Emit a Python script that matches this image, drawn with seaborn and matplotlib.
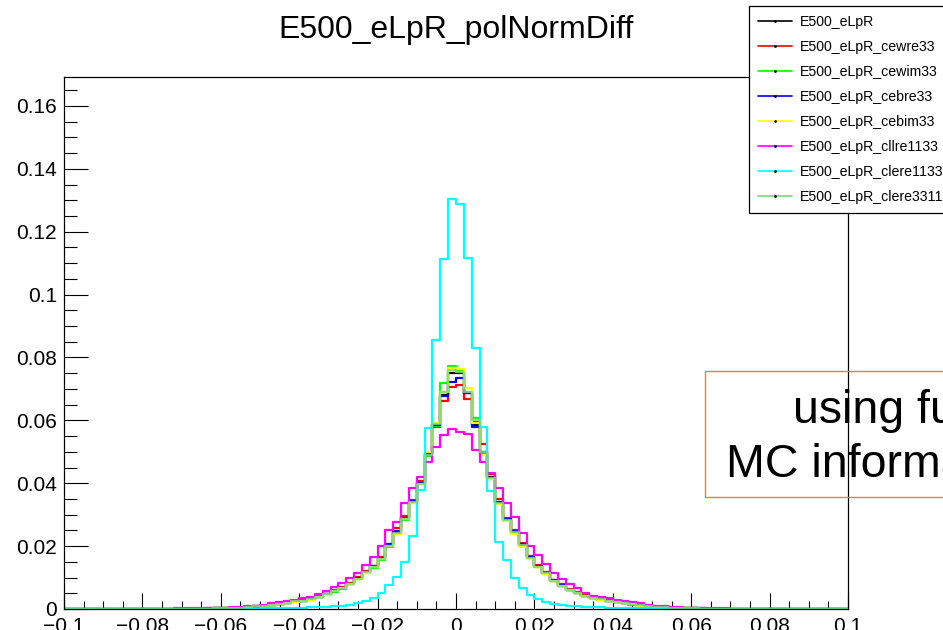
import numpy as np
import pandas as pd
import matplotlib
matplotlib.use("Agg")
import matplotlib.pyplot as plt
import matplotlib.patches as mpatches
from matplotlib.lines import Line2D
from matplotlib.ticker import MultipleLocator, FuncFormatter
import seaborn as sns

# ---------------- data (100 bins from -0.1 to 0.1, width 0.002) ----------------
bin_lo, bin_hi, n_bins = -0.1, 0.1, 100

eLpR = [
    0, 0, 0, 0, 0, 0, 0, 0, 0.00002, 0.00003,
    0.00003, 0.00004, 0.00005, 0.00006, 0.00008, 0.0001, 0.0001, 0.00012, 0.00015, 0.0002,
    0.00025, 0.0003, 0.0004, 0.0006, 0.0008, 0.0010, 0.0013, 0.0016, 0.0020, 0.0024,
    0.0027, 0.0031, 0.0039, 0.0048, 0.0057, 0.0068, 0.0082, 0.0098, 0.0119, 0.0135,
    0.0161, 0.0204, 0.0246, 0.0288, 0.0341, 0.0400, 0.0490, 0.0586, 0.0680, 0.0752,
    0.0750, 0.0688, 0.0585, 0.0497, 0.0420, 0.0340, 0.0283, 0.0246, 0.0204, 0.0165,
    0.0137, 0.0114, 0.0090, 0.0074, 0.0062, 0.0052, 0.0041, 0.0036, 0.0031, 0.0027,
    0.0023, 0.0019, 0.0015, 0.0012, 0.0009, 0.0007, 0.0005, 0.0004, 0.0003, 0.00025,
    0.0002, 0.00015, 0.00012, 0.0001, 0.0001, 0.00008, 0.00006, 0.00005, 0.00004, 0.00003,
    0.00003, 0.00002, 0, 0, 0, 0, 0, 0, 0, 0,
]
cewre33 = [
    0, 0, 0, 0, 0, 0, 0, 0.00002, 0.00002, 0.00003,
    0.00004, 0.00004, 0.00005, 0.00007, 0.00008, 0.0001, 0.00011, 0.00013, 0.00016, 0.0002,
    0.00026, 0.0003, 0.0004, 0.0006, 0.0008, 0.0011, 0.0013, 0.0017, 0.0021, 0.0025,
    0.0028, 0.0032, 0.0040, 0.0047, 0.0059, 0.0070, 0.0083, 0.0101, 0.0121, 0.0138,
    0.0165, 0.0207, 0.0259, 0.0295, 0.0348, 0.0408, 0.0495, 0.0580, 0.0660, 0.0707,
    0.0714, 0.0667, 0.0594, 0.0525, 0.0428, 0.0350, 0.0290, 0.0250, 0.0210, 0.0168,
    0.0140, 0.0118, 0.0093, 0.0078, 0.0064, 0.0053, 0.0043, 0.0037, 0.0032, 0.0028,
    0.0024, 0.0020, 0.0016, 0.0012, 0.0010, 0.0007, 0.0005, 0.0004, 0.0003, 0.00025,
    0.0002, 0.00016, 0.00012, 0.0001, 0.0001, 0.00008, 0.00006, 0.00005, 0.00004, 0.00003,
    0.00002, 0.00002, 0, 0, 0, 0, 0, 0, 0, 0,
]
cewim33 = [
    0, 0, 0, 0, 0, 0, 0, 0, 0.00002, 0.00003,
    0.00003, 0.00004, 0.00005, 0.00006, 0.00007, 0.00009, 0.0001, 0.00012, 0.00014, 0.00019,
    0.00024, 0.0003, 0.0004, 0.0005, 0.0007, 0.0010, 0.0012, 0.0015, 0.0019, 0.0023,
    0.0026, 0.0030, 0.0037, 0.0046, 0.0055, 0.0065, 0.0079, 0.0094, 0.0114, 0.0131,
    0.0156, 0.0196, 0.0240, 0.0283, 0.0337, 0.0398, 0.0488, 0.0583, 0.0718, 0.0773,
    0.0758, 0.0691, 0.0607, 0.0495, 0.0415, 0.0336, 0.0280, 0.0242, 0.0200, 0.0161,
    0.0133, 0.0111, 0.0088, 0.0072, 0.0060, 0.0050, 0.0040, 0.0035, 0.0030, 0.0026,
    0.0022, 0.0018, 0.0014, 0.0011, 0.0009, 0.0007, 0.0005, 0.0004, 0.0003, 0.00024,
    0.0002, 0.00015, 0.00011, 0.0001, 0.00009, 0.00007, 0.00006, 0.00005, 0.00004, 0.00003,
    0.00002, 0.00002, 0, 0, 0, 0, 0, 0, 0, 0,
]
cebre33 = [
    0, 0, 0, 0, 0, 0, 0, 0, 0.00002, 0.00003,
    0.00003, 0.00004, 0.00005, 0.00006, 0.00008, 0.0001, 0.0001, 0.00012, 0.00015, 0.0002,
    0.00025, 0.0003, 0.0004, 0.0006, 0.0008, 0.0010, 0.0013, 0.0016, 0.0020, 0.0024,
    0.0027, 0.0031, 0.0039, 0.0048, 0.0057, 0.0067, 0.0081, 0.0099, 0.0118, 0.0136,
    0.0162, 0.0206, 0.0249, 0.0290, 0.0343, 0.0402, 0.0492, 0.0586, 0.0677, 0.0723,
    0.0735, 0.0686, 0.0580, 0.0500, 0.0418, 0.0338, 0.0285, 0.0247, 0.0206, 0.0166,
    0.0138, 0.0115, 0.0091, 0.0075, 0.0061, 0.0052, 0.0042, 0.0036, 0.0031, 0.0027,
    0.0023, 0.0019, 0.0015, 0.0012, 0.0009, 0.0007, 0.0005, 0.0004, 0.0003, 0.00025,
    0.0002, 0.00015, 0.00012, 0.0001, 0.0001, 0.00008, 0.00006, 0.00005, 0.00004, 0.00003,
    0.00003, 0.00002, 0, 0, 0, 0, 0, 0, 0, 0,
]
cebim33 = [
    0, 0, 0, 0, 0, 0, 0, 0, 0.00002, 0.00002,
    0.00003, 0.00004, 0.00005, 0.00006, 0.00007, 0.00009, 0.0001, 0.00012, 0.00015, 0.00019,
    0.00024, 0.0003, 0.0004, 0.0005, 0.0008, 0.0010, 0.0012, 0.0016, 0.0019, 0.0023,
    0.0026, 0.0030, 0.0038, 0.0046, 0.0056, 0.0066, 0.0080, 0.0096, 0.0116, 0.0132,
    0.0158, 0.0200, 0.0240, 0.0285, 0.0338, 0.0396, 0.0500, 0.0593, 0.0690, 0.0765,
    0.0762, 0.0703, 0.0590, 0.0490, 0.0413, 0.0334, 0.0279, 0.0240, 0.0198, 0.0160,
    0.0134, 0.0112, 0.0089, 0.0073, 0.0060, 0.0051, 0.0040, 0.0035, 0.0030, 0.0026,
    0.0022, 0.0018, 0.0015, 0.0011, 0.0009, 0.0007, 0.0005, 0.0004, 0.0003, 0.00024,
    0.0002, 0.00015, 0.00012, 0.0001, 0.00009, 0.00008, 0.00006, 0.00005, 0.00004, 0.00003,
    0.00002, 0.00002, 0, 0, 0, 0, 0, 0, 0, 0,
]
cllre1133 = [
    0, 0, 0, 0, 0.00002, 0.00003, 0.00004, 0.00005, 0.00006, 0.00007,
    0.00008, 0.0001, 0.00012, 0.00014, 0.00016, 0.0002, 0.00022, 0.00025, 0.0003, 0.00035,
    0.0004, 0.0005, 0.0006, 0.0008, 0.0011, 0.0014, 0.0018, 0.0022, 0.0026, 0.0030,
    0.0035, 0.0039, 0.0047, 0.0058, 0.0071, 0.0082, 0.0098, 0.0114, 0.0140, 0.0166,
    0.0201, 0.0251, 0.0278, 0.0336, 0.0384, 0.0421, 0.0469, 0.0516, 0.0553, 0.0571,
    0.0564, 0.0558, 0.0506, 0.0469, 0.0432, 0.0384, 0.0336, 0.0292, 0.0241, 0.0200,
    0.0172, 0.0143, 0.0114, 0.0095, 0.0080, 0.0066, 0.0050, 0.0041, 0.0037, 0.0034,
    0.0030, 0.0026, 0.0022, 0.0018, 0.0014, 0.0011, 0.0008, 0.0006, 0.0005, 0.0004,
    0.00035, 0.0003, 0.00025, 0.0002, 0.00016, 0.00013, 0.0001, 0.00008, 0.00006, 0.00005,
    0.00004, 0.00003, 0.00002, 0, 0, 0, 0, 0, 0, 0,
]
clere1133 = [
    0, 0, 0, 0, 0, 0, 0, 0, 0, 0,
    0, 0, 0.00001, 0.00002, 0.00002, 0.00003, 0.00003, 0.00004, 0.00005, 0.00006,
    0.00007, 0.00008, 0.0001, 0.00012, 0.00014, 0.00016, 0.0002, 0.00024, 0.0003, 0.00035,
    0.00045, 0.0005, 0.0006, 0.0007, 0.0009, 0.0011, 0.0014, 0.0018, 0.0025, 0.0036,
    0.0052, 0.0076, 0.0101, 0.0150, 0.0232, 0.0378, 0.0575, 0.0855, 0.1113, 0.1303,
    0.1288, 0.1115, 0.0830, 0.0580, 0.0376, 0.0213, 0.0155, 0.0098, 0.0066, 0.0045,
    0.0031, 0.0023, 0.0016, 0.0013, 0.0010, 0.0008, 0.0007, 0.0006, 0.0005, 0.0004,
    0.00035, 0.0003, 0.00025, 0.0002, 0.00016, 0.00013, 0.0001, 0.00008, 0.00007, 0.00006,
    0.00005, 0.00004, 0.00003, 0.00003, 0.00002, 0.00002, 0.00001, 0, 0, 0,
    0, 0, 0, 0, 0, 0, 0, 0, 0, 0,
]
clere3311 = [
    0, 0, 0, 0, 0, 0, 0, 0, 0.00002, 0.00003,
    0.00003, 0.00004, 0.00005, 0.00006, 0.00008, 0.0001, 0.0001, 0.00012, 0.00015, 0.0002,
    0.00025, 0.0003, 0.0004, 0.0006, 0.0008, 0.0010, 0.0013, 0.0016, 0.0020, 0.0024,
    0.0027, 0.0031, 0.0038, 0.0047, 0.0056, 0.0067, 0.0081, 0.0097, 0.0117, 0.0134,
    0.0160, 0.0200, 0.0243, 0.0286, 0.0339, 0.0399, 0.0490, 0.0588, 0.0690, 0.0760,
    0.0755, 0.0690, 0.0600, 0.0498, 0.0418, 0.0338, 0.0282, 0.0244, 0.0202, 0.0163,
    0.0135, 0.0113, 0.0089, 0.0073, 0.0061, 0.0051, 0.0041, 0.0035, 0.0031, 0.0027,
    0.0023, 0.0019, 0.0015, 0.0012, 0.0009, 0.0007, 0.0005, 0.0004, 0.0003, 0.00025,
    0.0002, 0.00015, 0.00012, 0.0001, 0.0001, 0.00008, 0.00006, 0.00005, 0.00004, 0.00003,
    0.00003, 0.00002, 0, 0, 0, 0, 0, 0, 0, 0,
]

series_names = [
    "E500_eLpR", "E500_eLpR_cewre33", "E500_eLpR_cewim33", "E500_eLpR_cebre33",
    "E500_eLpR_cebim33", "E500_eLpR_cllre1133", "E500_eLpR_clere1133", "E500_eLpR_clere3311",
]
series_values = [eLpR, cewre33, cewim33, cebre33, cebim33, cllre1133, clere1133, clere3311]
series_colors = ["#000000", "#ff0000", "#00ff00", "#0000ff",
                 "#ffff00", "#ff00ff", "#00ffff", "#7fd67f"]

title = "E500_eLpR_polNormDiff"
note_lines = ["using full", "MC information"]

# ---------------- figure ----------------
sns.set_style("ticks")
plt.rcParams["font.family"] = ["Liberation Sans", "DejaVu Sans"]
plt.rcParams["axes.unicode_minus"] = True
plt.rcParams["text.color"] = "black"
plt.rcParams["xtick.color"] = "black"
plt.rcParams["ytick.color"] = "black"
plt.rcParams["xtick.labelcolor"] = "black"
plt.rcParams["ytick.labelcolor"] = "black"

W, H = 943, 630
fig = plt.figure(figsize=(W / 100, H / 100), dpi=100)
fig.patch.set_facecolor("white")
ax = fig.add_axes([64 / W, 1 - 609 / H, (848 - 64) / W, (609 - 77) / H])
ax.set_facecolor("white")

edges = np.linspace(bin_lo, bin_hi, n_bins + 1)
centers = 0.5 * (edges[:-1] + edges[1:])
edge_list = [float(e) for e in edges]

for name, vals, col in zip(series_names, series_values, series_colors):
    df = pd.DataFrame({"x": centers, "w": np.asarray(vals, dtype=float)})
    sns.histplot(data=df, x="x", weights="w", bins=edge_list, element="step",
                 fill=False, color=col, linewidth=1.6, ax=ax,
                 alpha=0.85 if name.endswith("3311") else 1.0)

ax.set_xlim(-0.1, 0.1)
ax.set_ylim(0, 0.1692)
ax.set_xlabel("")
ax.set_ylabel("")

ax.xaxis.set_major_locator(MultipleLocator(0.02))
ax.xaxis.set_minor_locator(MultipleLocator(0.005))
ax.yaxis.set_major_locator(MultipleLocator(0.02))
ax.yaxis.set_minor_locator(MultipleLocator(0.005))

def fmt(v, pos):
    if abs(v) < 1e-9:
        return "0"
    s = ("%.2f" % v).rstrip("0").rstrip(".")
    return s.replace("-", "\u2212")

ax.xaxis.set_major_formatter(FuncFormatter(fmt))
ax.yaxis.set_major_formatter(FuncFormatter(fmt))

ax.tick_params(axis="x", which="major", direction="in", length=11.5, width=0.8,
               pad=5.8, labelsize=15, colors="black", top=False)
ax.tick_params(axis="x", which="minor", direction="in", length=5.8, width=0.8, top=False)
ax.tick_params(axis="y", which="major", direction="in", length=17.3, width=0.8,
               pad=5, labelsize=15, colors="black", right=False)
ax.tick_params(axis="y", which="minor", direction="in", length=9.4, width=0.8, right=False)
for sp in ax.spines.values():
    sp.set_visible(True)
    sp.set_color("black")
    sp.set_linewidth(0.9)

fig.text(456 / W, 1 - 30 / H, title, ha="center", va="center", fontsize=23, color="black")

# legend
handles = [Line2D([0], [0], color=c, lw=1.2, marker=".", markersize=2,
                  markerfacecolor="black", markeredgecolor="black")
           for c in series_colors]
leg = fig.legend(handles, series_names, loc="upper left",
                 bbox_to_anchor=(749 / W, 1 - 6 / H), bbox_transform=fig.transFigure,
                 fontsize=10.2, frameon=True, fancybox=False, framealpha=1,
                 edgecolor="black", borderpad=0.62, labelspacing=0.78,
                 handlelength=2.45, handletextpad=0.5, borderaxespad=0)
leg.get_frame().set_linewidth(0.9)
for t in leg.get_texts():
    t.set_color("black")

# annotation box (cut off at the right edge)
rect = mpatches.Rectangle((705 / W, 1 - 497 / H), 0.4, 126 / H,
                          transform=fig.transFigure, fill=False,
                          edgecolor="#f08020", linewidth=1.0)
fig.patches.append(rect)
fig.text(793 / W, 1 - 423 / H, note_lines[0], ha="left", va="baseline",
         fontsize=33.5, color="black")
fig.text(726 / W, 1 - 477 / H, note_lines[1], ha="left", va="baseline",
         fontsize=33.5, color="black")

fig.savefig("out.png", dpi=100, facecolor="white")
